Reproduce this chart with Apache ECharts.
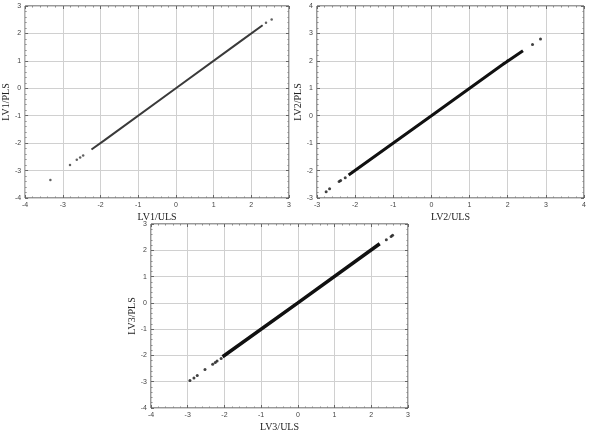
<!DOCTYPE html>
<html>
<head>
<meta charset="utf-8">
<script src="https://cdn.jsdelivr.net/npm/echarts@6/dist/echarts.min.js"></script>
<style>
  html, body { margin: 0; padding: 0; background: #fff; }
  #chart { width: 591px; height: 436px; }
</style>
</head>
<body>
<div id="chart"></div>
<script>
// isolated points
const lv1Points = [[-3.33, -3.34], [-2.81, -2.80], [-2.63, -2.61], [-2.54, -2.52], [-2.46, -2.45], [2.39, 2.39], [2.54, 2.51]];
const lv2Points = [[-2.76, -2.77], [-2.67, -2.66], [-2.42, -2.40], [-2.38, -2.36], [-2.26, -2.26], [1.9, 1.9], [2.0, 2.0], [2.65, 2.60], [2.86, 2.80]];
const lv3Points = [[-2.94, -2.95], [-2.83, -2.86], [-2.74, -2.76], [-2.53, -2.54], [-2.32, -2.34], [-2.25, -2.27], [-2.2, -2.21], [-2.09, -2.12], [2.41, 2.40], [2.54, 2.52], [2.58, 2.57]];

// ends of the dense band of points
const lv1Band = [[-2.24, -2.23], [-1.9, -1.9], [0, 0], [1.7, 1.7], [2.3, 2.3]];
const lv2Band = [[-2.17, -2.16], [0, 0], [1.85, 1.85], [2.40, 2.37]];
const lv3Band = [[-2.05, -2.05], [0, 0], [2.23, 2.25]];

const xNames = ['LV1/ULS', 'LV2/ULS', 'LV3/ULS'];
const yNames = ['LV1/PLS', 'LV2/PLS', 'LV3/PLS'];
const ranges = [[-4, 3], [-3, 4], [-4, 3]];

const grids = [
  { left: 23, top: 6, width: 266, height: 192 },
  { left: 317, top: 6, width: 267, height: 192 },
  { left: 151, top: 224, width: 257, height: 184 }
];

const labelStyle = { fontSize: 7, color: '#444', fontFamily: 'Liberation Sans' };
const nameStyle = { fontSize: 10, color: '#222', fontFamily: 'Liberation Serif' };

let xAxes = [], yAxes = [];
grids.forEach((g, i) => {
  const r = ranges[i];
  const base = {
    type: 'value', min: r[0], max: r[1], interval: 1,
    gridIndex: i,
    axisLine: { show: false, onZero: false },
    axisTick: { show: true, inside: true, length: 3, lineStyle: { color: '#666' } },
    minorTick: { show: true, splitNumber: 5, length: 1.5, lineStyle: { color: '#888' } }
  };
  xAxes.push(Object.assign({}, base, {
    position: 'bottom',
    name: xNames[i], nameLocation: 'middle', nameGap: 14, nameTextStyle: nameStyle,
    axisLabel: Object.assign({ margin: 4 }, labelStyle),
    splitLine: { show: true, lineStyle: { color: '#d0d0d0', width: 1 } }
  }));
  xAxes.push(Object.assign({}, base, {
    position: 'top', axisLabel: { show: false }, splitLine: { show: false }
  }));
  yAxes.push(Object.assign({}, base, {
    position: 'left',
    name: yNames[i], nameLocation: 'middle', nameGap: 12, nameTextStyle: nameStyle,
    axisLabel: Object.assign({ margin: 4 }, labelStyle),
    splitLine: { show: true, lineStyle: { color: '#d0d0d0', width: 1 } }
  }));
  yAxes.push(Object.assign({}, base, {
    position: 'right', axisLabel: { show: false }, splitLine: { show: false }
  }));
});

const pointSets = [lv1Points, lv2Points, lv3Points];
const bands = [lv1Band, lv2Band, lv3Band];
const bandWidth = [2, 3, 3.5];
const bandColor = ['#3a3a3a', '#111', '#111'];
const dotSize = [2.5, 3, 3];

let series = [];
for (let i = 0; i < 3; i++) {
  series.push({
    type: 'line', xAxisIndex: i * 2, yAxisIndex: i * 2,
    data: bands[i], showSymbol: false, silent: true,
    lineStyle: { color: bandColor[i], width: bandWidth[i] }
  });
  series.push({
    type: 'scatter', xAxisIndex: i * 2, yAxisIndex: i * 2,
    data: pointSets[i], symbolSize: dotSize[i], silent: true,
    itemStyle: { color: bandColor[i] }
  });
}

const chart = echarts.init(document.getElementById('chart'), null, { renderer: 'canvas' });
chart.setOption({
  animation: false,
  backgroundColor: '#fff',
  grid: grids.map(g => Object.assign({ show: true, borderColor: '#333', borderWidth: 1, backgroundColor: 'transparent' }, g)),
  xAxis: xAxes,
  yAxis: yAxes,
  series: series
});
</script>
</body>
</html>
